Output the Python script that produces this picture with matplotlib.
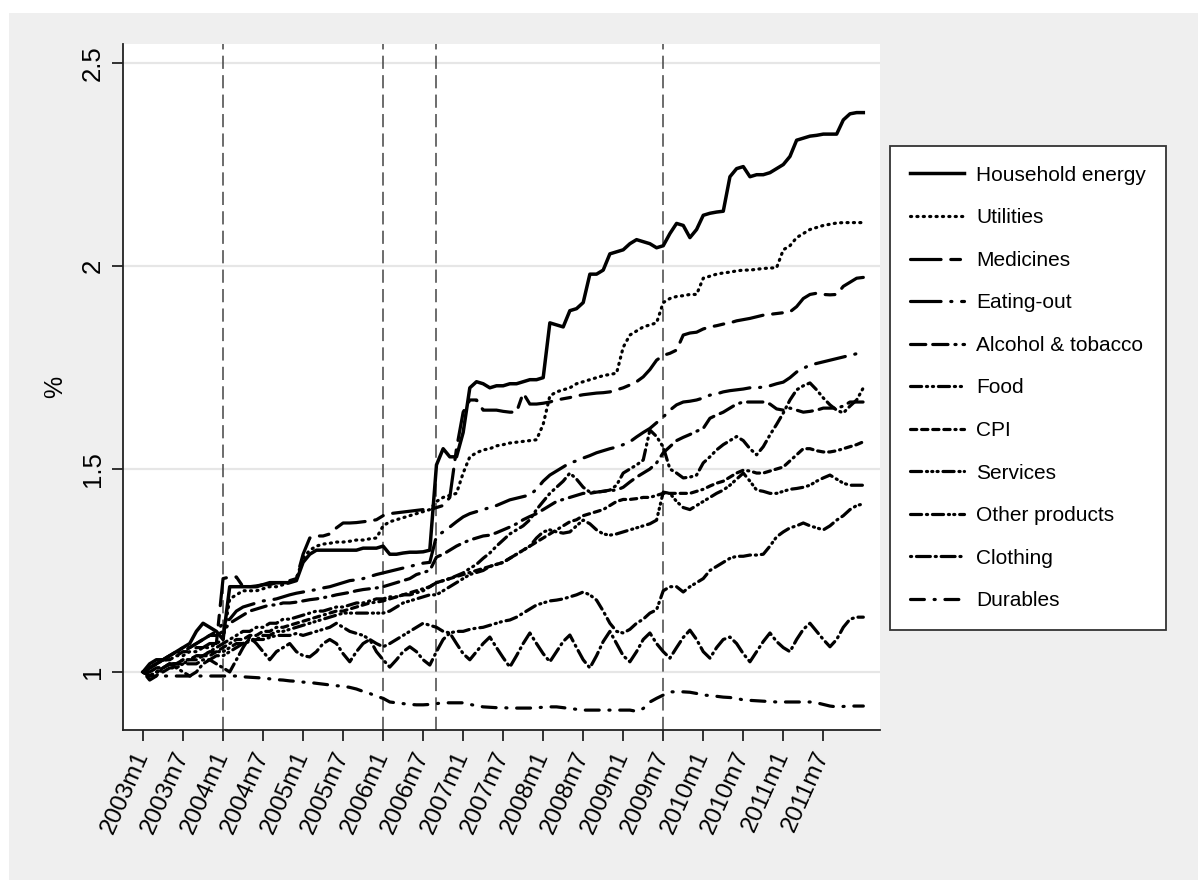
import matplotlib
matplotlib.use("Agg")
import matplotlib.pyplot as plt
from matplotlib.patches import Rectangle

plt.rcParams['font.family'] = ['Liberation Sans', 'DejaVu Sans']
plt.rcParams['lines.scale_dashes'] = False

# monthly index, 0 = 2003m1 ... 108 = 2012m1
months = list(range(109))

tick_months = [0, 6, 12, 18, 24, 30, 36, 42, 48, 54, 60, 66, 72, 78, 84, 90, 96, 102]
tick_labels = ['2003m1', '2003m7', '2004m1', '2004m7', '2005m1', '2005m7',
               '2006m1', '2006m7', '2007m1', '2007m7', '2008m1', '2008m7',
               '2009m1', '2009m7', '2010m1', '2010m7', '2011m1', '2011m7']

# vertical reference lines (2004m1, 2006m1, 2006m9, 2009m7)
event_months = [12, 36, 44, 78]

household_energy = [
    1.00, 1.02, 1.03, 1.03, 1.04, 1.05, 1.06, 1.07, 1.10, 1.12, 1.11, 1.10,
    1.08, 1.21, 1.21, 1.21, 1.21, 1.21, 1.215, 1.22, 1.22, 1.22, 1.22, 1.225,
    1.27, 1.29, 1.30, 1.30, 1.30, 1.30, 1.30, 1.30, 1.30, 1.305, 1.305, 1.305,
    1.31, 1.29, 1.29, 1.293, 1.295, 1.295, 1.296, 1.30, 1.51, 1.55, 1.53, 1.53,
    1.59, 1.70, 1.715, 1.71, 1.70, 1.705, 1.705, 1.71, 1.71, 1.715, 1.72, 1.72,
    1.725, 1.86, 1.855, 1.85, 1.89, 1.895, 1.91, 1.98, 1.98, 1.99, 2.03, 2.035,
    2.04, 2.055, 2.065, 2.06, 2.055, 2.045, 2.05, 2.08, 2.105, 2.10, 2.07, 2.09,
    2.125, 2.13, 2.133, 2.135, 2.22, 2.24, 2.245, 2.22, 2.225, 2.225, 2.23, 2.24,
    2.25, 2.27, 2.31, 2.315, 2.32, 2.322, 2.325, 2.325, 2.325, 2.36, 2.375, 2.378,
    2.378]

utilities = [
    1.00, 1.01, 1.02, 1.03, 1.03, 1.04, 1.04, 1.05, 1.05, 1.06, 1.06, 1.07,
    1.08, 1.18, 1.19, 1.20, 1.20, 1.20, 1.205, 1.21, 1.21, 1.215, 1.22, 1.23,
    1.28, 1.30, 1.31, 1.315, 1.317, 1.32, 1.32, 1.322, 1.325, 1.325, 1.328, 1.33,
    1.36, 1.37, 1.375, 1.38, 1.385, 1.39, 1.395, 1.40, 1.42, 1.43, 1.435, 1.44,
    1.49, 1.53, 1.54, 1.547, 1.55, 1.557, 1.56, 1.564, 1.566, 1.568, 1.57, 1.572,
    1.61, 1.68, 1.69, 1.695, 1.70, 1.71, 1.715, 1.72, 1.725, 1.73, 1.733, 1.736,
    1.80, 1.83, 1.84, 1.85, 1.855, 1.86, 1.91, 1.92, 1.925, 1.927, 1.93, 1.93,
    1.97, 1.975, 1.98, 1.983, 1.985, 1.988, 1.99, 1.99, 1.992, 1.994, 1.995, 1.996,
    2.04, 2.05, 2.07, 2.08, 2.09, 2.095, 2.10, 2.103, 2.106, 2.107, 2.107, 2.107,
    2.107]

medicines = [
    1.00, 1.01, 1.02, 1.03, 1.03, 1.04, 1.05, 1.05, 1.06, 1.06, 1.07, 1.07,
    1.23, 1.234, 1.234, 1.21, 1.21, 1.212, 1.215, 1.215, 1.22, 1.22, 1.225, 1.23,
    1.29, 1.33, 1.335, 1.335, 1.34, 1.355, 1.367, 1.367, 1.368, 1.37, 1.372, 1.375,
    1.385, 1.39, 1.392, 1.394, 1.396, 1.398, 1.40, 1.40, 1.405, 1.41, 1.43, 1.55,
    1.64, 1.67, 1.67, 1.645, 1.645, 1.645, 1.642, 1.64, 1.64, 1.687, 1.66, 1.66,
    1.662, 1.665, 1.67, 1.673, 1.676, 1.68, 1.683, 1.685, 1.687, 1.688, 1.69, 1.695,
    1.70, 1.707, 1.715, 1.727, 1.745, 1.768, 1.78, 1.785, 1.793, 1.83, 1.835, 1.837,
    1.845, 1.85, 1.853, 1.857, 1.86, 1.865, 1.868, 1.871, 1.875, 1.879, 1.881, 1.883,
    1.885, 1.887, 1.90, 1.92, 1.93, 1.933, 1.93, 1.929, 1.93, 1.95, 1.96, 1.97,
    1.972]

eating_out = [
    1.00, 1.01, 1.02, 1.03, 1.04, 1.05, 1.05, 1.06, 1.07, 1.08, 1.09, 1.10,
    1.12, 1.13, 1.15, 1.16, 1.165, 1.17, 1.175, 1.177, 1.18, 1.185, 1.19, 1.194,
    1.197, 1.20, 1.203, 1.207, 1.21, 1.215, 1.22, 1.225, 1.227, 1.23, 1.235, 1.24,
    1.244, 1.248, 1.252, 1.256, 1.26, 1.264, 1.268, 1.27, 1.335, 1.345, 1.357, 1.37,
    1.382, 1.39, 1.395, 1.40, 1.405, 1.41, 1.417, 1.424, 1.428, 1.432, 1.436, 1.45,
    1.47, 1.485, 1.495, 1.505, 1.515, 1.52, 1.527, 1.533, 1.54, 1.545, 1.55, 1.554,
    1.56, 1.567, 1.579, 1.59, 1.60, 1.614, 1.628, 1.645, 1.658, 1.665, 1.667, 1.67,
    1.675, 1.682, 1.685, 1.69, 1.693, 1.695, 1.697, 1.70, 1.70, 1.702, 1.705, 1.71,
    1.714, 1.725, 1.739, 1.748, 1.756, 1.76, 1.764, 1.768, 1.772, 1.776, 1.78, 1.784,
    1.786]

alcohol_tobacco = [
    1.00, 1.01, 1.02, 1.03, 1.04, 1.05, 1.06, 1.06, 1.07, 1.08, 1.09, 1.09,
    1.10, 1.12, 1.13, 1.14, 1.15, 1.155, 1.16, 1.165, 1.165, 1.17, 1.17, 1.172,
    1.175, 1.178, 1.18, 1.183, 1.186, 1.19, 1.193, 1.196, 1.20, 1.203, 1.205, 1.207,
    1.21, 1.215, 1.22, 1.225, 1.23, 1.24, 1.245, 1.25, 1.283, 1.29, 1.30, 1.31,
    1.318, 1.325, 1.33, 1.335, 1.337, 1.343, 1.35, 1.357, 1.365, 1.375, 1.383, 1.39,
    1.40, 1.41, 1.42, 1.425, 1.43, 1.435, 1.44, 1.44, 1.443, 1.445, 1.447, 1.448,
    1.455, 1.468, 1.48, 1.49, 1.50, 1.515, 1.54, 1.555, 1.57, 1.578, 1.585, 1.593,
    1.60, 1.625, 1.633, 1.64, 1.65, 1.66, 1.665, 1.665, 1.665, 1.665, 1.66, 1.648,
    1.645, 1.65, 1.645, 1.64, 1.642, 1.645, 1.65, 1.65, 1.65, 1.655, 1.665, 1.665,
    1.665]

food = [
    1.00, 0.99, 1.00, 1.01, 1.02, 1.02, 1.03, 1.03, 1.04, 1.04, 1.05, 1.06,
    1.07, 1.08, 1.09, 1.10, 1.10, 1.11, 1.11, 1.12, 1.12, 1.13, 1.13, 1.135,
    1.14, 1.145, 1.15, 1.15, 1.155, 1.16, 1.16, 1.165, 1.17, 1.17, 1.175, 1.18,
    1.18, 1.185, 1.185, 1.19, 1.19, 1.195, 1.20, 1.21, 1.22, 1.225, 1.23, 1.237,
    1.244, 1.255, 1.265, 1.28, 1.293, 1.31, 1.325, 1.34, 1.35, 1.36, 1.375, 1.40,
    1.42, 1.44, 1.455, 1.47, 1.49, 1.475, 1.455, 1.443, 1.443, 1.445, 1.448, 1.46,
    1.49, 1.50, 1.51, 1.522, 1.596, 1.58, 1.554, 1.50, 1.49, 1.478, 1.48, 1.485,
    1.515, 1.53, 1.547, 1.56, 1.57, 1.58, 1.57, 1.55, 1.535, 1.555, 1.584, 1.61,
    1.638, 1.67, 1.695, 1.705, 1.712, 1.695, 1.675, 1.658, 1.645, 1.638, 1.655, 1.67,
    1.70]

cpi = [
    1.00, 1.00, 1.01, 1.01, 1.02, 1.02, 1.02, 1.03, 1.03, 1.04, 1.04, 1.05,
    1.06, 1.07, 1.08, 1.08, 1.09, 1.09, 1.10, 1.10, 1.11, 1.11, 1.115, 1.12,
    1.125, 1.13, 1.135, 1.14, 1.145, 1.15, 1.15, 1.155, 1.16, 1.165, 1.17, 1.172,
    1.175, 1.18, 1.185, 1.19, 1.195, 1.20, 1.205, 1.21, 1.22, 1.225, 1.23, 1.235,
    1.24, 1.245, 1.25, 1.255, 1.26, 1.265, 1.27, 1.28, 1.29, 1.30, 1.31, 1.32,
    1.33, 1.34, 1.35, 1.36, 1.37, 1.375, 1.385, 1.39, 1.395, 1.40, 1.41, 1.42,
    1.425, 1.425, 1.427, 1.43, 1.43, 1.435, 1.44, 1.44, 1.44, 1.44, 1.44, 1.445,
    1.45, 1.458, 1.465, 1.47, 1.48, 1.49, 1.497, 1.495, 1.49, 1.49, 1.495, 1.50,
    1.505, 1.52, 1.535, 1.55, 1.55, 1.545, 1.542, 1.542, 1.545, 1.55, 1.555, 1.56,
    1.567]

services = [
    1.00, 1.00, 1.01, 1.01, 1.02, 1.02, 1.03, 1.03, 1.04, 1.04, 1.05, 1.05,
    1.05, 1.06, 1.07, 1.07, 1.08, 1.08, 1.09, 1.09, 1.10, 1.10, 1.105, 1.11,
    1.115, 1.12, 1.125, 1.13, 1.135, 1.14, 1.145, 1.145, 1.145, 1.145, 1.145, 1.145,
    1.145, 1.15, 1.16, 1.17, 1.175, 1.18, 1.185, 1.19, 1.19, 1.20, 1.21, 1.22,
    1.23, 1.24, 1.245, 1.25, 1.26, 1.265, 1.27, 1.28, 1.29, 1.30, 1.31, 1.33,
    1.345, 1.35, 1.345, 1.342, 1.345, 1.36, 1.374, 1.365, 1.35, 1.34, 1.337, 1.34,
    1.345, 1.35, 1.355, 1.36, 1.365, 1.374, 1.443, 1.44, 1.42, 1.405, 1.40, 1.41,
    1.42, 1.43, 1.44, 1.448, 1.46, 1.475, 1.49, 1.47, 1.448, 1.445, 1.44, 1.44,
    1.445, 1.45, 1.452, 1.455, 1.46, 1.47, 1.478, 1.485, 1.475, 1.465, 1.46, 1.46,
    1.46]

other_products = [
    1.00, 0.99, 1.00, 1.00, 1.01, 1.01, 1.02, 1.02, 1.02, 1.03, 1.03, 1.04,
    1.04, 1.05, 1.06, 1.07, 1.075, 1.08, 1.08, 1.085, 1.09, 1.09, 1.09, 1.095,
    1.09, 1.095, 1.10, 1.105, 1.11, 1.12, 1.11, 1.10, 1.095, 1.09, 1.08, 1.07,
    1.062, 1.07, 1.08, 1.09, 1.10, 1.11, 1.12, 1.115, 1.11, 1.10, 1.096, 1.10,
    1.10, 1.105, 1.108, 1.11, 1.115, 1.12, 1.125, 1.128, 1.135, 1.145, 1.155, 1.165,
    1.17, 1.175, 1.177, 1.18, 1.185, 1.19, 1.197, 1.19, 1.177, 1.15, 1.12, 1.10,
    1.096, 1.105, 1.12, 1.13, 1.145, 1.153, 1.20, 1.21, 1.21, 1.197, 1.21, 1.22,
    1.23, 1.25, 1.26, 1.27, 1.28, 1.285, 1.285, 1.288, 1.288, 1.29, 1.31, 1.333,
    1.345, 1.355, 1.36, 1.367, 1.36, 1.355, 1.35, 1.36, 1.374, 1.385, 1.40, 1.41,
    1.414]

clothing = [
    1.00, 0.98, 0.99, 1.01, 1.02, 1.01, 1.00, 0.99, 1.00, 1.02, 1.03, 1.02,
    1.01, 1.00, 1.03, 1.06, 1.086, 1.07, 1.05, 1.03, 1.05, 1.06, 1.07, 1.05,
    1.04, 1.037, 1.05, 1.07, 1.08, 1.07, 1.045, 1.025, 1.05, 1.07, 1.08, 1.05,
    1.03, 1.012, 1.03, 1.05, 1.062, 1.05, 1.03, 1.017, 1.05, 1.08, 1.096, 1.07,
    1.045, 1.03, 1.05, 1.07, 1.086, 1.06, 1.035, 1.012, 1.04, 1.07, 1.096, 1.07,
    1.045, 1.025, 1.05, 1.075, 1.091, 1.06, 1.03, 1.01, 1.04, 1.075, 1.10, 1.07,
    1.04, 1.025, 1.05, 1.08, 1.096, 1.07, 1.05, 1.034, 1.06, 1.085, 1.103, 1.08,
    1.05, 1.034, 1.06, 1.08, 1.086, 1.07, 1.045, 1.025, 1.05, 1.075, 1.096, 1.075,
    1.06, 1.05, 1.08, 1.105, 1.12, 1.10, 1.08, 1.062, 1.08, 1.11, 1.13, 1.135,
    1.135]

durables = [
    1.00, 0.99, 0.99, 0.99, 0.99, 0.99, 0.99, 0.99, 0.99, 0.99, 0.99, 0.99,
    0.99, 0.99, 0.99, 0.988, 0.987, 0.986, 0.985, 0.983, 0.981, 0.98, 0.978, 0.977,
    0.975, 0.974, 0.972, 0.97, 0.968, 0.966, 0.965, 0.962, 0.958, 0.952, 0.947, 0.94,
    0.935, 0.926, 0.924, 0.922, 0.92, 0.919, 0.919, 0.92, 0.922, 0.924, 0.924, 0.924,
    0.924, 0.92, 0.917, 0.914, 0.913, 0.912, 0.912, 0.911, 0.911, 0.911, 0.911, 0.912,
    0.913, 0.914, 0.914, 0.912, 0.91, 0.908, 0.906, 0.906, 0.906, 0.906, 0.906, 0.906,
    0.906, 0.906, 0.903, 0.91, 0.926, 0.935, 0.943, 0.951, 0.951, 0.951, 0.95, 0.947,
    0.943, 0.942, 0.94, 0.938, 0.937, 0.935, 0.931, 0.93, 0.929, 0.928, 0.927, 0.926,
    0.926, 0.926, 0.926, 0.926, 0.926, 0.924, 0.92, 0.916, 0.914, 0.915, 0.916, 0.916,
    0.916]

series_names = ['Household energy', 'Utilities', 'Medicines', 'Eating-out',
                'Alcohol & tobacco', 'Food', 'CPI', 'Services',
                'Other products', 'Clothing', 'Durables']
series_values = [household_energy, utilities, medicines, eating_out,
                 alcohol_tobacco, food, cpi, services, other_products,
                 clothing, durables]

# Stata-like line patterns (in points)
patterns = [
    '-',
    (0, (0.8, 3.8)),
    (0, (22, 7, 7, 7)),
    (0, (22, 7, 0.8, 7)),
    (0, (11, 5, 11, 5, 0.8, 5)),
    (0, (8, 3.5, 0.8, 3.5, 0.8, 3.5)),
    (0, (4.5, 3.5, 4.5, 3.5, 4.5, 3.5, 4.5, 3.5, 0.8, 3.5)),
    (0, (8, 3.5, 0.8, 3, 0.8, 3, 0.8, 3.5)),
    (0, (8, 3.5, 0.8, 3.5, 8, 3.5, 0.8, 3, 0.8, 3.5)),
    (0, (0.8, 3.5, 10, 3.5)),
    (0, (10, 7, 0.8, 7)),
]

fig = plt.figure(figsize=(11.98, 8.8), dpi=100)
fig.patch.set_facecolor('white')
fig.add_artist(Rectangle((9 / 1198, 0), 1, 1 - 13 / 880,
                         transform=fig.transFigure, facecolor='#efefef',
                         edgecolor='none', zorder=0))

ax = fig.add_axes([123 / 1198, 1 - 730 / 880, (880 - 123) / 1198, (730 - 44) / 880])
ax.set_facecolor('white')

for m in event_months:
    ax.axvline(m, color='#444444', lw=1.1, dashes=(9.5, 4.5), zorder=2)

handles = []
for name, vals, pat in zip(series_names, series_values, patterns):
    if pat == '-':
        ln, = ax.plot(months, vals, color='black', lw=2.5, ls='-', zorder=3,
                      solid_joinstyle='round')
    else:
        ln, = ax.plot(months, vals, color='black', lw=2.3, ls=pat, zorder=3,
                      dash_capstyle='round', dash_joinstyle='round')
    handles.append(ln)

ax.set_xlim(-3, 110.5)
ax.set_ylim(0.857, 2.547)

ax.set_yticks([1, 1.5, 2, 2.5])
ax.set_yticklabels(['1', '1.5', '2', '2.5'])
ax.yaxis.grid(True, color='#e6e6e6', lw=1.6)
ax.set_axisbelow(True)

ax.set_xticks(tick_months)
ax.set_xticklabels(tick_labels, rotation=66, ha='right', va='center',
                   rotation_mode='anchor', fontsize=17.5)

for lbl in ax.get_yticklabels():
    lbl.set_rotation(90)
    lbl.set_va('center')
    lbl.set_ha('right')
    lbl.set_fontsize(18.5)

ax.tick_params(axis='x', length=8, width=1.3, pad=8, colors='#222222',
               labelcolor='black')
ax.tick_params(axis='y', length=8, width=1.3, pad=5, colors='#222222',
               labelcolor='black')

for side in ['top', 'right']:
    ax.spines[side].set_visible(False)
for side in ['left', 'bottom']:
    ax.spines[side].set_color('#222222')
    ax.spines[side].set_linewidth(1.3)

ax.set_ylabel('%', fontsize=18, labelpad=10)

leg = fig.legend(handles, series_names, loc='upper left',
                 bbox_to_anchor=(890 / 1198, 1 - 146 / 880),
                 fontsize=15, frameon=True, fancybox=False,
                 edgecolor='#333333', facecolor='white', framealpha=1,
                 handlelength=2.6, handletextpad=0.6, labelspacing=1.13,
                 borderpad=0.95, borderaxespad=0)
leg.get_frame().set_linewidth(1.3)

fig.savefig('out.png', dpi=100)
